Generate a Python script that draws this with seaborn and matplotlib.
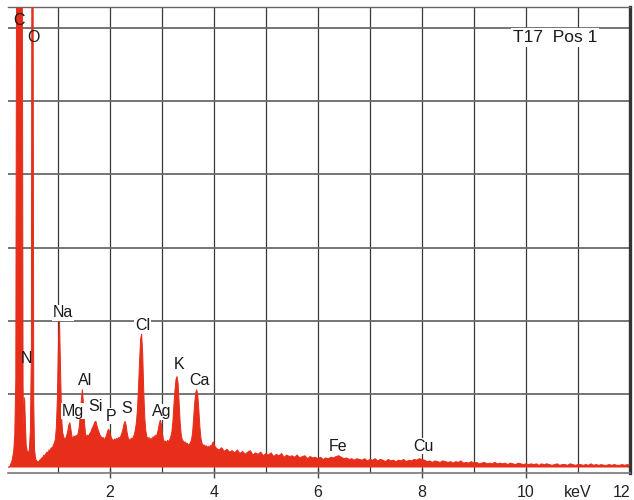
import numpy as np
import matplotlib
matplotlib.use("Agg")
import matplotlib.pyplot as plt
import seaborn as sns

# EDS spectrum, counts in grid units (one horizontal gridline = 1)
energy_low = [0.04, 0.08, 0.12, 0.15, 0.17, 0.19, 0.21, 0.23, 0.25, 0.27, 0.29, 0.31, 0.33,
              0.345, 0.36, 0.375, 0.39, 0.41, 0.43, 0.45, 0.47, 0.49, 0.50, 0.52, 0.535, 0.55,
              0.57, 0.59, 0.61, 0.63, 0.65, 0.67, 0.69, 0.71, 0.73, 0.75, 0.77, 0.79, 0.81,
              0.83, 0.85, 0.87, 0.89, 0.91, 0.93, 0.95, 0.97, 0.99, 1.01, 1.03, 1.05, 1.07,
              1.09, 1.11, 1.13, 1.15, 1.17, 1.19, 1.21, 1.23, 1.25, 1.27, 1.29, 1.31, 1.33,
              1.35, 1.37, 1.39, 1.41, 1.43, 1.45, 1.47, 1.49, 1.51, 1.53, 1.55, 1.57, 1.59,
              1.61, 1.63, 1.65, 1.67, 1.69, 1.71, 1.73, 1.75, 1.77, 1.79, 1.81, 1.83, 1.85,
              1.87, 1.89, 1.91, 1.93, 1.95, 1.97, 1.99, 2.01, 2.03, 2.05, 2.07, 2.09, 2.11,
              2.13, 2.15, 2.17, 2.19, 2.21, 2.23, 2.25, 2.27, 2.29, 2.31, 2.33, 2.35, 2.37,
              2.39, 2.41, 2.43, 2.45, 2.47, 2.49, 2.51, 2.53, 2.55, 2.57, 2.59, 2.61, 2.63,
              2.65, 2.67, 2.69, 2.71, 2.73, 2.75, 2.77, 2.79, 2.81, 2.83, 2.85, 2.87, 2.89,
              2.91, 2.93, 2.95, 2.97, 2.99, 3.01, 3.03, 3.05, 3.07, 3.09, 3.11, 3.13, 3.15,
              3.17, 3.19, 3.21, 3.23, 3.25, 3.27, 3.29, 3.31, 3.33, 3.35, 3.37, 3.39, 3.41,
              3.43, 3.45, 3.47, 3.49, 3.51, 3.53, 3.55, 3.57, 3.59, 3.61, 3.63, 3.65, 3.67,
              3.69, 3.71, 3.73, 3.75, 3.77, 3.79, 3.81, 3.83, 3.85, 3.87, 3.89, 3.91, 3.93,
              3.95, 3.97, 3.99, 4.01]
counts_low = [0.00, 0.02, 0.10, 0.22, 0.45, 1.20, 9.0, 9.0, 9.0, 9.0, 9.0, 9.0, 1.10,
              0.55, 0.95, 0.60, 0.30, 0.22, 0.20, 0.24, 0.50, 1.6, 8.0, 8.0, 0.90, 0.25,
              0.12, 0.09, 0.08, 0.08, 0.10, 0.11, 0.13, 0.14, 0.17, 0.16, 0.19, 0.21, 0.20,
              0.24, 0.23, 0.27, 0.26, 0.30, 0.33, 0.38, 0.55, 0.95, 1.70, 2.02, 1.35, 0.70,
              0.48, 0.42, 0.38, 0.40, 0.44, 0.50, 0.58, 0.61, 0.52, 0.42, 0.40, 0.43, 0.41,
              0.44, 0.42, 0.47, 0.55, 0.72, 0.92, 1.06, 0.88, 0.62, 0.46, 0.42, 0.44, 0.43,
              0.46, 0.48, 0.52, 0.55, 0.58, 0.62, 0.63, 0.57, 0.52, 0.48, 0.44, 0.42, 0.40,
              0.41, 0.38, 0.40, 0.43, 0.48, 0.52, 0.50, 0.45, 0.40, 0.38, 0.36, 0.39, 0.37,
              0.40, 0.38, 0.41, 0.40, 0.43, 0.47, 0.52, 0.59, 0.63, 0.58, 0.48, 0.41, 0.38,
              0.37, 0.40, 0.38, 0.42, 0.45, 0.52, 0.62, 0.80, 1.10, 1.45, 1.75, 1.82, 1.55,
              1.05, 0.68, 0.50, 0.42, 0.39, 0.41, 0.37, 0.40, 0.38, 0.42, 0.40, 0.44, 0.42,
              0.46, 0.52, 0.60, 0.65, 0.58, 0.46, 0.38, 0.35, 0.36, 0.34, 0.37, 0.35, 0.38,
              0.42, 0.48, 0.62, 0.85, 1.05, 1.20, 1.24, 1.15, 0.90, 0.62, 0.45, 0.38, 0.36,
              0.34, 0.35, 0.32, 0.33, 0.30, 0.32, 0.34, 0.38, 0.48, 0.68, 0.88, 1.02, 1.06,
              0.98, 0.78, 0.55, 0.40, 0.33, 0.30, 0.31, 0.28, 0.30, 0.27, 0.29, 0.27, 0.30,
              0.28, 0.33, 0.35, 0.30]

# continuum from 4.05 to 12.00 keV, 0.05 keV channels
energy_high = np.round(np.arange(4.05, 12.001, 0.05), 2)
counts_high = [0.26, 0.24, 0.27, 0.22, 0.25, 0.21, 0.23, 0.20, 0.24, 0.19,
               0.22, 0.18, 0.21, 0.23, 0.17, 0.20, 0.18, 0.21, 0.16, 0.19,
               0.17, 0.20, 0.15, 0.18, 0.16, 0.19, 0.14, 0.17, 0.15, 0.16,
               0.14, 0.17, 0.13, 0.15, 0.16, 0.12, 0.15, 0.13, 0.14, 0.12,
               0.14, 0.11, 0.13, 0.12, 0.14, 0.13, 0.15, 0.16, 0.14, 0.12,
               0.13, 0.11, 0.12, 0.10, 0.12, 0.11, 0.10, 0.12, 0.09, 0.11,
               0.10, 0.12, 0.09, 0.11, 0.10, 0.08, 0.11, 0.09, 0.10, 0.08,
               0.10, 0.09, 0.11, 0.08, 0.10, 0.09, 0.11, 0.10, 0.12, 0.11,
               0.10, 0.08, 0.09, 0.07, 0.09, 0.08, 0.07, 0.09, 0.08, 0.07,
               0.08, 0.06, 0.08, 0.07, 0.09, 0.06, 0.07, 0.06, 0.08, 0.06,
               0.07, 0.05, 0.06, 0.07, 0.05, 0.06, 0.05, 0.07, 0.05, 0.06,
               0.05, 0.06, 0.04, 0.06, 0.05, 0.04, 0.06, 0.05, 0.04, 0.05,
               0.04, 0.05, 0.04, 0.05, 0.03, 0.05, 0.04, 0.05, 0.04, 0.03,
               0.04, 0.05, 0.03, 0.04, 0.04, 0.03, 0.05, 0.04, 0.03, 0.04,
               0.04, 0.03, 0.04, 0.03, 0.05, 0.03, 0.04, 0.03, 0.04, 0.03,
               0.03, 0.04, 0.03, 0.04, 0.03, 0.03, 0.04, 0.03, 0.04, 0.03]

energy = np.concatenate([energy_low, energy_high])
counts = np.concatenate([counts_low, counts_high])

# element labels and where they sit (keV, grid units)
elements = ["C", "O", "N", "Na", "Mg", "Al", "Si", "P", "S", "Cl", "Ag", "K", "Ca", "Fe", "Cu"]
label_x = [0.25, 0.52, 0.385, 1.10, 1.29, 1.52, 1.73, 2.02, 2.33, 2.63, 3.00, 3.33, 3.73, 6.38, 8.02]
label_y = [6.10, 5.86, 1.48, 2.11, 0.77, 1.18, 0.83, 0.70, 0.81, 1.93, 0.76, 1.40, 1.18, 0.29, 0.29]
no_box = ["C", "O", "N"]

tick_pos = [2, 4, 6, 8, 10, 11, 12]
tick_labels = ["2", "4", "6", "8", "10", "keV", "12"]

sns.set_style("white")
plt.rcParams["font.family"] = ["Liberation Sans", "DejaVu Sans"]

red = "#e62e1b"

fig = plt.figure(figsize=(6.34, 5.0), dpi=100)
ax = fig.add_axes([8 / 634, 27 / 500, 622 / 634, 466 / 500])

for x in range(1, 12):
    ax.axvline(x, color="#3a3a3a", lw=0.9, zorder=0)
for y in range(1, 7):
    ax.axhline(y, color="#6a6a6a", lw=1.3, zorder=0)

ax.fill_between(energy, counts, 0, color=red, lw=0, zorder=2)
sns.lineplot(x=energy, y=counts, color=red, lw=0.7, ax=ax, zorder=3)

for name, lx, ly in zip(elements, label_x, label_y):
    if name in no_box:
        ax.text(lx, ly, name, ha="center", va="center", fontsize=11.5, color="#1a1a1a", zorder=5)
    else:
        ax.text(lx, ly, name, ha="center", va="center", fontsize=11.5, color="#1a1a1a", zorder=5,
                bbox=dict(facecolor="white", edgecolor="none", pad=0.5))

ax.text(10.56, 5.86, "T17  Pos 1", ha="center", va="center", fontsize=12.5, color="#1a1a1a",
        zorder=5, bbox=dict(facecolor="white", edgecolor="none", pad=1.5))

ax.set_xlim(0.04, 12)
ax.set_ylim(-0.075, 6.28)
ax.set_xticks(tick_pos)
ax.set_xticklabels(tick_labels, fontsize=11.5, color="#222222")
ax.set_yticks([])
ax.tick_params(axis="x", direction="inout", length=7, width=1, color="#444444", pad=5, bottom=True)
ticks = ax.xaxis.get_major_ticks()
ticks[5].tick1line.set_visible(False)
ticks[6].tick1line.set_visible(False)
ticks[6].label1.set_horizontalalignment("right")

ax.spines["left"].set_visible(False)
ax.spines["top"].set_color("#666666")
ax.spines["top"].set_linewidth(1.0)
ax.spines["right"].set_color("#333333")
ax.spines["right"].set_linewidth(2.4)
ax.spines["bottom"].set_color("#777777")
ax.spines["bottom"].set_linewidth(1.2)
ax.set_xlabel("")
ax.set_ylabel("")

fig.savefig("out.png", dpi=100, facecolor="white")
